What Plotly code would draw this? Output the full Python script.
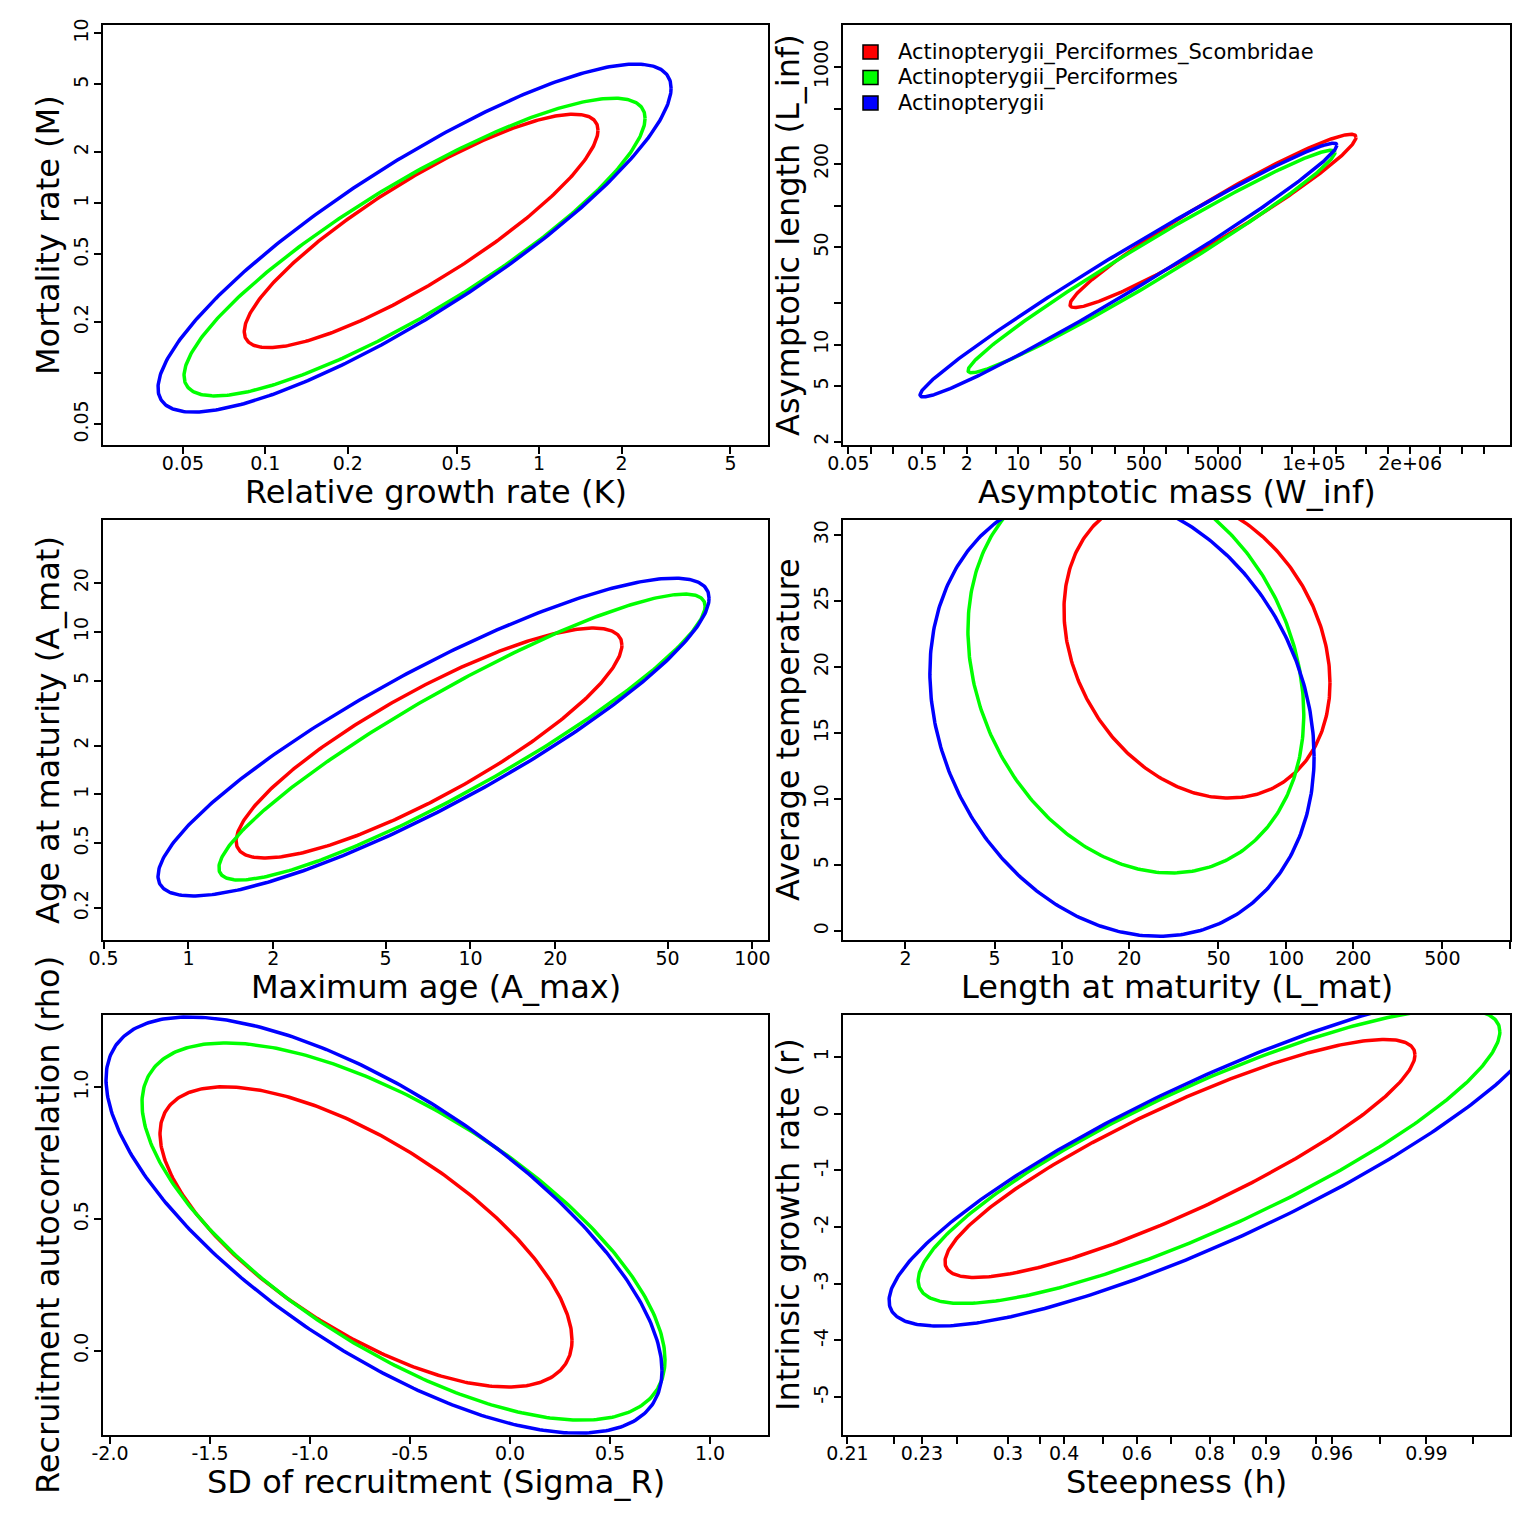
import numpy as np
import plotly.graph_objects as go

taxa = ["Actinopterygii_Perciformes_Scombridae", "Actinopterygii_Perciformes", "Actinopterygii"]
taxa_colors = ["#FF0000", "#00FF00", "#0000FF"]

# ellipse summaries, one value per taxon (same order as taxa)
# centres and half-axes are on the plotted scale (log10 for log axes, logit for h)
k_mean = [-0.431, -0.455, -0.455]
k_half = [0.646, 0.842, 0.937]
m_mean = [-0.163, -0.258, -0.205]
m_half = [0.687, 0.876, 1.024]
k_m_corr = [0.863, 0.865, 0.862]

winf_mean = [3.634, 2.802, 2.491]
winf_half = [1.935, 2.483, 2.821]
linf_mean = [1.890, 1.598, 1.536]
linf_half = [0.624, 0.801, 0.913]
winf_linf_corr = [0.965, 0.980, 0.984]

amax_mean = [0.853, 0.970, 0.869]
amax_half = [0.684, 0.862, 0.977]
amat_mean = [0.316, 0.353, 0.353]
amat_half = [0.708, 0.880, 0.978]
amax_amat_corr = [0.852, 0.915, 0.874]

lmat_mean = [1.603, 1.330, 1.268]
lmat_half = [0.594, 0.750, 0.858]
temp_mean = [21.55, 19.6, 16.4]
temp_half = [11.48, 15.2, 16.8]
lmat_temp_corr = [-0.24, -0.21, -0.19]

sigr_mean = [-0.72, -0.5325, -0.63]
sigr_half = [1.03, 1.3075, 1.39]
rho_mean = [0.432, 0.4525, 0.477]
rho_half = [0.570, 0.716, 0.790]
sigr_rho_corr = [-0.687, -0.68, -0.70]

h_mean = [0.650, 1.088, 1.224]
h_half = [3.547, 4.39, 4.965]
r_mean = [-0.79, -0.75, -0.782]
r_half = [2.10, 2.60, 2.965]
h_r_corr = [0.87, 0.845, 0.85]

# tick values / labels (blank = tick without label, as in the original)
k_ticks = [0.05, 0.1, 0.2, 0.5, 1, 2, 5]
k_labels = ["0.05", "0.1", "0.2", "0.5", "1", "2", "5"]
m_ticks = [0.05, 0.1, 0.2, 0.5, 1, 2, 5, 10]
m_labels = ["0.05", "", "0.2", "0.5", "1", "2", "5", "10"]
winf_ticks = [0.05, 0.1, 0.2, 0.5, 1, 2, 5, 10, 20, 50, 100, 200, 500, 1e3, 2e3, 5e3,
              1e4, 2e4, 5e4, 1e5, 2e5, 5e5, 1e6, 2e6, 5e6, 1e7, 2e7]
winf_labels = ["0.05", "", "", "0.5", "", "2", "", "10", "", "50", "", "", "500", "", "", "5000",
               "", "", "", "1e+05", "", "", "", "2e+06", "", "", ""]
linf_ticks = [2, 5, 10, 20, 50, 100, 200, 500, 1000]
linf_labels = ["2", "5", "10", "", "50", "", "200", "", "1000"]
amax_ticks = [0.5, 1, 2, 5, 10, 20, 50, 100]
amax_labels = ["0.5", "1", "2", "5", "10", "20", "50", "100"]
amat_ticks = [0.2, 0.5, 1, 2, 5, 10, 20]
amat_labels = ["0.2", "0.5", "1", "2", "5", "10", "20"]
lmat_ticks = [2, 5, 10, 20, 50, 100, 200, 500, 1000]
lmat_labels = ["2", "5", "10", "20", "50", "100", "200", "500", ""]
temp_ticks = [0, 5, 10, 15, 20, 25, 30]
sigr_ticks = [-2.0, -1.5, -1.0, -0.5, 0.0, 0.5, 1.0]
rho_ticks = [0.0, 0.5, 1.0]
h_ticks = [0.21, 0.22, 0.23, 0.25, 0.3, 0.35, 0.4, 0.5, 0.6, 0.7, 0.8, 0.85, 0.9, 0.95, 0.96, 0.98, 0.99, 0.995]
h_labels = ["0.21", "", "0.23", "", "0.3", "", "0.4", "", "0.6", "", "0.8", "", "0.9", "", "0.96", "", "0.99", ""]
r_ticks = [-5, -4, -3, -2, -1, 0, 1]


def logit_h(h):
    h = np.asarray(h, dtype=float)
    return np.log((h - 0.2) / (1 - h))


def fmt(vals, dec):
    return [f"{v:.{dec}f}" for v in vals]


theta = np.linspace(0, 2 * np.pi, 400)


def ellipse(mx, sx, my, sy, r):
    x = mx + sx * np.cos(theta)
    y = my + sy * (r * np.cos(theta) + np.sqrt(1 - r * r) * np.sin(theta))
    return x, y


panels = [
    dict(xm=k_mean, xs=k_half, ym=m_mean, ys=m_half, rr=k_m_corr,
         xlog=True, ylog=True, xr=[-1.593, 0.836], yr=[-1.423, 1.049],
         xt=k_ticks, xl=k_labels, yt=m_ticks, yl=m_labels,
         xtitle="Relative growth rate (K)", ytitle="Mortality rate (M)"),
    dict(xm=winf_mean, xs=winf_half, ym=linf_mean, ys=linf_half, rr=winf_linf_corr,
         xlog=True, ylog=True, xr=[-1.373, 7.653], yr=[0.277, 3.300],
         xt=winf_ticks, xl=winf_labels, yt=linf_ticks, yl=linf_labels,
         xtitle="Asymptotic mass (W_inf)", ytitle="Asymptotic length (L_inf)"),
    dict(xm=amax_mean, xs=amax_half, ym=amat_mean, ys=amat_half, rr=amax_amat_corr,
         xlog=True, ylog=True, xr=[-0.303, 2.055], yr=[-0.896, 1.689],
         xt=amax_ticks, xl=amax_labels, yt=amat_ticks, yl=amat_labels,
         xtitle="Maximum age (A_max)", ytitle="Age at maturity (A_mat)"),
    dict(xm=lmat_mean, xs=lmat_half, ym=temp_mean, ys=temp_half, rr=lmat_temp_corr,
         xlog=True, ylog=False, xr=[0.022, 3.001], yr=[-0.68, 31.14],
         xt=lmat_ticks, xl=lmat_labels, yt=temp_ticks, yl=[str(v) for v in temp_ticks],
         xtitle="Length at maturity (L_mat)", ytitle="Average temperature"),
    dict(xm=sigr_mean, xs=sigr_half, ym=rho_mean, ys=rho_half, rr=sigr_rho_corr,
         xlog=False, ylog=False, xr=[-2.035, 1.29], yr=[-0.32, 1.2745],
         xt=sigr_ticks, xl=fmt(sigr_ticks, 1), yt=rho_ticks, yl=fmt(rho_ticks, 1),
         xtitle="SD of recruitment (Sigma_R)", ytitle="Recruitment autocorrelation (rho)"),
    dict(xm=h_mean, xs=h_half, ym=r_mean, ys=r_half, rr=h_r_corr,
         xlog=False, ylog=False, xr=[-4.436, 5.631], yr=[-5.67, 1.741],
         xt=list(logit_h(h_ticks)), xl=h_labels, yt=r_ticks, yl=[str(v) for v in r_ticks],
         xtitle="Steepness (h)", ytitle="Intrinsic growth rate (r)"),
]

W = 1536
OFF = 8  # the page body margin shifts the figure by this many pixels


def px_x(x):
    return (x - OFF) / W


def px_y(y):
    return 1 - (y - OFF) / W


col_x = [(103, 768), (843, 1510)]
row_y = [(25, 445), (520, 940), (1015, 1435)]
font = "DejaVu Sans, Liberation Sans, sans-serif"

fig = go.Figure()
layout = {}
annotations = []
shapes = []

for i, p in enumerate(panels):
    n = i + 1
    xa = "x" if n == 1 else f"x{n}"
    ya = "y" if n == 1 else f"y{n}"
    cx0, cx1 = col_x[i % 2]
    ry0, ry1 = row_y[i // 2]

    for j in range(3):
        ex, ey = ellipse(p["xm"][j], p["xs"][j], p["ym"][j], p["ys"][j], p["rr"][j])
        if p["xlog"]:
            ex = 10 ** ex
        if p["ylog"]:
            ey = 10 ** ey
        fig.add_trace(go.Scatter(x=ex, y=ey, mode="lines", xaxis=xa, yaxis=ya,
                                 line=dict(color=taxa_colors[j], width=3.5),
                                 showlegend=False, hoverinfo="skip"))

    common = dict(showline=True, linecolor="black", linewidth=2, mirror=True,
                  ticks="outside", ticklen=7, tickwidth=2, tickcolor="black",
                  showgrid=False, zeroline=False, automargin=False,
                  tickfont=dict(family=font, size=19, color="black"))
    layout["xaxis" if n == 1 else f"xaxis{n}"] = dict(
        common, domain=[px_x(cx0), px_x(cx1)], anchor=ya,
        type="log" if p["xlog"] else "linear", range=p["xr"],
        tickmode="array", tickvals=p["xt"], ticktext=p["xl"], tickangle=0,
        ticklabelstandoff=-7)
    layout["yaxis" if n == 1 else f"yaxis{n}"] = dict(
        common, domain=[px_y(ry1), px_y(ry0)], anchor=xa,
        type="log" if p["ylog"] else "linear", range=p["yr"],
        tickmode="array", tickvals=p["yt"], ticktext=p["yl"], tickangle=-90,
        ticklabelstandoff=-2)

    annotations.append(dict(text=p["xtitle"], xref="paper", yref="paper",
                            x=px_x((cx0 + cx1) / 2), y=px_y(ry1 + 47),
                            xanchor="center", yanchor="middle", showarrow=False,
                            font=dict(family=font, size=32, color="black")))
    annotations.append(dict(text=p["ytitle"], xref="paper", yref="paper",
                            x=px_x(cx0 - 55), y=px_y((ry0 + ry1) / 2),
                            xanchor="center", yanchor="middle", showarrow=False, textangle=-90,
                            font=dict(family=font, size=32, color="black")))

# legend (filled squares + names) inside the top-right panel, as in base-R legend()
for j in range(3):
    yc = 52 + 25.5 * j
    shapes.append(dict(type="rect", xref="paper", yref="paper",
                       x0=px_x(863), x1=px_x(878), y0=px_y(yc + 7), y1=px_y(yc - 7),
                       fillcolor=taxa_colors[j], line=dict(color="black", width=1.5)))
    annotations.append(dict(text=taxa[j], xref="paper", yref="paper",
                            x=px_x(896), y=px_y(yc), xanchor="left", yanchor="middle",
                            showarrow=False, font=dict(family=font, size=21, color="black")))

fig.update_layout(
    template="none",
    width=1536, height=1536,
    margin=dict(l=0, r=0, t=0, b=0),
    paper_bgcolor="white", plot_bgcolor="white",
    showlegend=False,
    annotations=annotations,
    shapes=shapes,
    **layout,
)

fig.write_html("out.html")
